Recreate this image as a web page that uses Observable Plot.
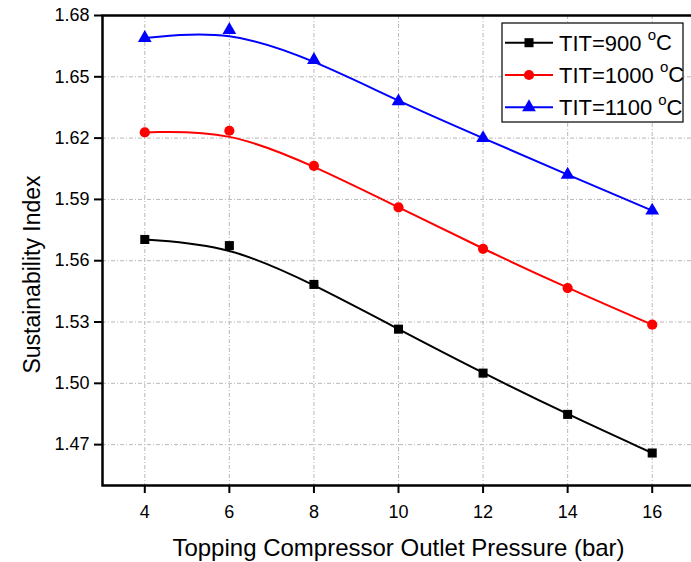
<!DOCTYPE html>
<html>
<head>
<meta charset="utf-8">
<script src="https://cdn.jsdelivr.net/npm/d3@7"></script>
<script src="https://cdn.jsdelivr.net/npm/@observablehq/plot@0.6"></script>
<style>
  html, body { margin: 0; padding: 0; background: #fff; overflow: hidden; }
  #chart svg { display: block; }
</style>
</head>
<body>
<div id="chart"></div>
<script>
const pressure = [4, 6, 8, 10, 12, 14, 16];
const tit900  = [1.5704, 1.5674, 1.5484, 1.5265, 1.5050, 1.4848, 1.4659];
const tit1000 = [1.6228, 1.6236, 1.6064, 1.5861, 1.5658, 1.5466, 1.5287];
const tit1100 = [1.6690, 1.6729, 1.6582, 1.6380, 1.6200, 1.6021, 1.5845];
const seriesKeys = ["900", "1000", "1100"];
const seriesColors = ["#000000", "#ff0000", "#0000ff"];
const seriesSymbols = ["square", "circle", "triangle"];
const xTicks = [4, 6, 8, 10, 12, 14, 16];
const yTicks = [1.47, 1.50, 1.53, 1.56, 1.59, 1.62, 1.65, 1.68];
const xLabel = "Topping Compressor Outlet Pressure (bar)";
const yLabel = "Sustainability Index";

const seriesValues = [tit900, tit1000, tit1100];
const data = [];
seriesKeys.forEach((k, i) => pressure.forEach((p, j) => data.push({series: k, x: p, y: seriesValues[i][j]})));

const font = "'Liberation Sans', Arial, sans-serif";

const chart = Plot.plot({
  width: 691,
  height: 562,
  marginTop: 15,
  marginLeft: 102,
  marginBottom: 77,
  marginRight: -3,
  style: {fontFamily: font, background: "#fff", color: "#000"},
  x: {domain: [3, 17]},
  y: {domain: [1.45, 1.68]},
  color: {domain: seriesKeys, range: seriesColors},
  symbol: {domain: seriesKeys, range: seriesSymbols},
  marks: [
    Plot.gridX(xTicks, {stroke: "#b8b8b8", strokeOpacity: 1, strokeDasharray: "4,2,1,2"}),
    Plot.gridY(yTicks, {stroke: "#b8b8b8", strokeOpacity: 1, strokeDasharray: "4,2,1,2"}),
    Plot.line(data, {x: "x", y: "y", z: "series", stroke: "series", curve: "basis", strokeWidth: 2}),
    Plot.dot(data, {x: "x", y: "y", fill: "series", symbol: "series", r: 5.1, stroke: "none"}),
    Plot.frame({stroke: "#000", strokeWidth: 2.5}),
    Plot.axisX(xTicks, {tickSize: 8, tickPadding: 12, strokeWidth: 2, fontSize: 18, label: null, tickFormat: d => String(d)}),
    Plot.axisY(yTicks, {tickSize: 8, tickPadding: 5, strokeWidth: 2, fontSize: 18, label: null, tickFormat: d => d.toFixed(2)}),
    Plot.text([xLabel], {frameAnchor: "bottom", dy: 63, fontSize: 24, fill: "#000", lineAnchor: "middle", textAnchor: "middle", text: d => d}),
    Plot.text([yLabel], {frameAnchor: "left", dx: -70, dy: 24, rotate: -90, fontSize: 23, fill: "#000", lineAnchor: "middle", textAnchor: "middle", text: d => d})
  ]
});

document.getElementById("chart").appendChild(chart);

const svg = d3.select(chart);
svg.selectAll('g[aria-label="x-axis tick label"], g[aria-label="y-axis tick label"]').attr("font-size", 18);

// Legend drawn inside the plot SVG
const lg = svg.append("g").attr("font-family", font).attr("text-anchor", "start");
const box = {x: 502, y: 23, w: 181, h: 99};
lg.append("rect").attr("x", box.x).attr("y", box.y).attr("width", box.w).attr("height", box.h)
  .attr("fill", "#fff").attr("stroke", "#000").attr("stroke-width", 1.2);
const symMap = {square: d3.symbolSquare, circle: d3.symbolCircle, triangle: d3.symbolTriangle};
const area = Math.PI * 5.1 * 5.1;
seriesKeys.forEach((k, i) => {
  const cy = 42.7 + i * 32.3;
  const row = lg.append("g");
  row.append("line").attr("x1", 505).attr("x2", 553).attr("y1", cy).attr("y2", cy)
    .attr("stroke", seriesColors[i]).attr("stroke-width", 2);
  row.append("path").attr("d", d3.symbol(symMap[seriesSymbols[i]], area)())
    .attr("transform", `translate(529,${cy})`).attr("fill", seriesColors[i]);
  const t = row.append("text").attr("x", 559).attr("y", cy).attr("dy", "0.36em")
    .attr("font-size", 22).attr("fill", "#000").attr("text-anchor", "start");
  t.append("tspan").text(`TIT=${k} `);
  t.append("tspan").attr("font-size", 15).attr("dy", "-0.7em").text("o");
  t.append("tspan").attr("dy", "0.45em").text("C");
});
</script>
</body>
</html>
